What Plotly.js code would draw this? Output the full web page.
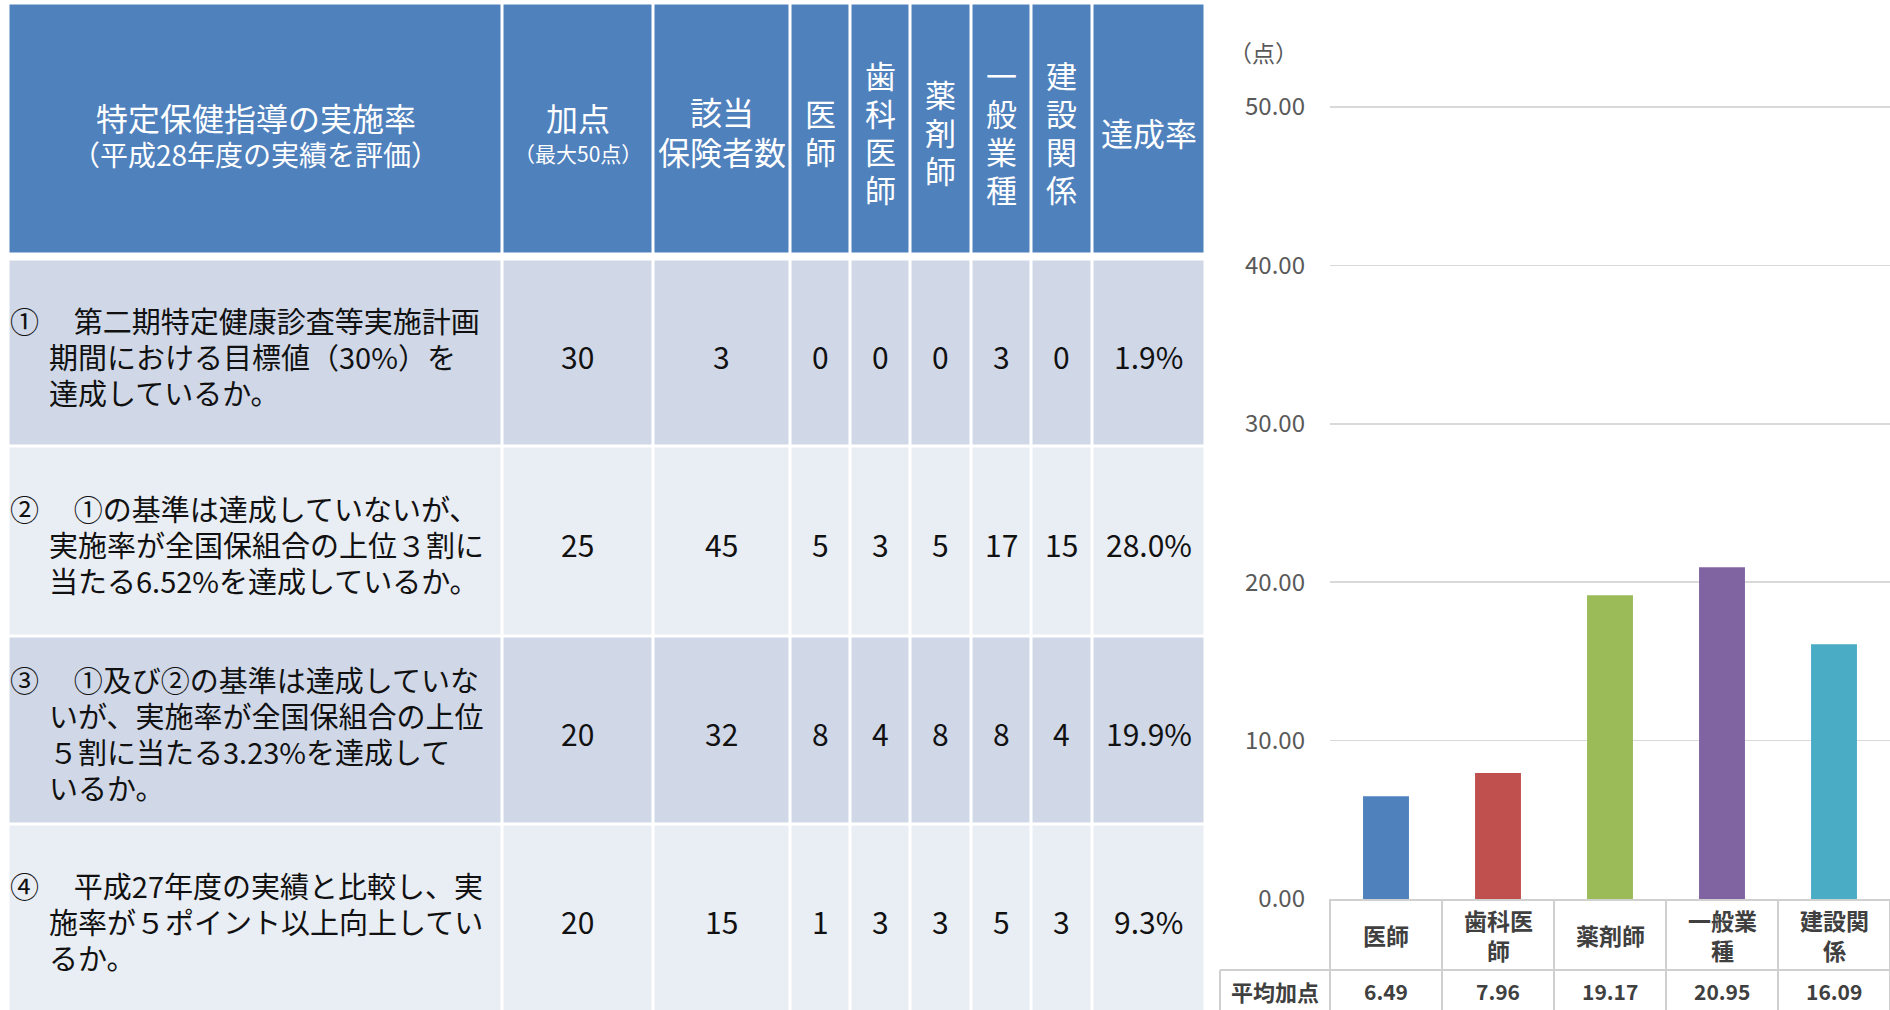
<!DOCTYPE html>
<html><head><meta charset="utf-8">
<script src="https://cdn.plot.ly/plotly-3.0.1.min.js"></script>
<style>html,body{margin:0;padding:0;background:#fff;overflow:hidden;} #chart{width:1890px;height:1010px;}</style>
</head><body><div id="chart"></div>
<script>
// ---------------- data ----------------
const headerTitle = '特定保健指導の実施率';
const headerSubtitle = '（平成28年度の実績を評価）';
const pointsHeader = '加点';
const pointsSub = '（最大50点）';
const insurerHeader = ['該当', '保険者数'];
const occupations = ['医師', '歯科医師', '薬剤師', '一般業種', '建設関係'];
const rateHeader = '達成率';
const criteriaLines = [
  ['①\u3000\u2009第二期特定健康診査等実施計画', '期間における目標値（30%）を', '達成しているか。'],
  ['②\u3000\u2009①の基準は達成していないが、', '実施率が全国保組合の上位３割に', '当たる6.52%を達成しているか。'],
  ['③\u3000\u2009①及び②の基準は達成していな', 'いが、実施率が全国保組合の上位', '５割に当たる3.23%を達成して', 'いるか。'],
  ['④\u3000\u2009平成27年度の実績と比較し、実', '施率が５ポイント以上向上してい', 'るか。']
];
const points = [30, 25, 20, 20];
const insurers = [3, 45, 32, 15];
const countsDoctor = [0, 5, 8, 1];
const countsDentist = [0, 3, 4, 3];
const countsPharmacist = [0, 5, 8, 3];
const countsGeneral = [3, 17, 8, 5];
const countsConstruction = [0, 15, 4, 3];
const achievementRate = ['1.9%', '28.0%', '19.9%', '9.3%'];

const chartCategories = ['医師', '歯科医師', '薬剤師', '一般業種', '建設関係'];
const categoryLabelLines = [['医師'], ['歯科医', '師'], ['薬剤師'], ['一般業', '種'], ['建設関', '係']];
const averagePoints = [6.49, 7.96, 19.17, 20.95, 16.09];
const averageLabel = '平均加点';
const unitLabel = '（点）';

// ---------------- layout / style constants ----------------
const W = 1890, H = 1010;
const FONT = 'Noto Sans CJK JP';
const colEdges = [8.5, 502.5, 653, 790, 850.5, 910.5, 971, 1031.5, 1092, 1205.5];
const headEdges = [3.5, 254.5];
const rowEdges = [259.5, 446, 636, 824.5, 1012];
const tableScale = [[0, '#4F81BD'], [0.5, '#D0D8E8'], [1, '#E9EDF4']];
const barColors = ['#4F81BD', '#C0504D', '#9BBB59', '#8064A2', '#4BACC6'];
const chartLeft = 1330, zeroPx = 899, pxPerUnit = 15.84, yMax = 52;
const catRowBottom = 970, labelCellLeft = 1220;
const lineCol = '#D0D0D0';
const TXT = '#111111', GRAY = '#404040';

const colCenter = i => (colEdges[i] + colEdges[i + 1]) / 2;
const rowCenter = r => (rowEdges[r] + rowEdges[r + 1]) / 2;
const py = p => 1 - p / H; // pixel row -> paper

const nCols = colEdges.length - 1;
const traces = [];
traces.push({
  type: 'heatmap', x: colEdges, y: headEdges,
  z: [Array(nCols).fill(0)], zmin: 0, zmax: 2, colorscale: tableScale,
  showscale: false, xgap: 3, ygap: 3, hoverinfo: 'skip', xaxis: 'x', yaxis: 'y'
});
traces.push({
  type: 'heatmap', x: colEdges, y: rowEdges,
  z: criteriaLines.map((_, r) => Array(nCols).fill(r % 2 === 0 ? 1 : 2)),
  zmin: 0, zmax: 2, colorscale: tableScale,
  showscale: false, xgap: 3, ygap: 3, hoverinfo: 'skip', xaxis: 'x', yaxis: 'y'
});
traces.push({
  type: 'bar', x: chartCategories, y: averagePoints, xaxis: 'x2', yaxis: 'y2',
  marker: {color: barColors}, width: 0.41, hoverinfo: 'skip'
});

const ann = [];
function tAnn(x, y, text, size, color, opts) {
  ann.push(Object.assign({
    xref: 'x', yref: 'y', x: x, y: y, text: text, showarrow: false,
    xanchor: 'center', yanchor: 'middle', borderpad: 0,
    font: {family: FONT, size: size, color: color}
  }, opts || {}));
}
// stacked lines, each line its own annotation
function stack(x, yMid, lines, size, color, spacing, opts) {
  lines.forEach((ln, i) => tAnn(x, yMid + (i - (lines.length - 1) / 2) * spacing, ln, size, color, opts));
}
// header
tAnn(colCenter(0), 117, headerTitle, 32, '#FFFFFF');
tAnn(colCenter(0), 154, headerSubtitle, 28, '#FFFFFF');
tAnn(colCenter(1), 117, pointsHeader, 32, '#FFFFFF');
tAnn(colCenter(1), 153, pointsSub, 21, '#FFFFFF');
stack(colCenter(2), 131, insurerHeader, 32, '#FFFFFF', 40);
occupations.forEach((o, k) => stack(colCenter(3 + k), 131, o.split(''), 31, '#FFFFFF', 38));
tAnn(colCenter(8), 132, rateHeader, 32, '#FFFFFF');
// body
const bodyCols = [points, insurers, countsDoctor, countsDentist, countsPharmacist, countsGeneral, countsConstruction, achievementRate];
criteriaLines.forEach((lines, r) => {
  const c = rowCenter(r) + 3;
  lines.forEach((ln, i) => {
    tAnn(i === 0 ? 9 : 48, c + (i - (lines.length - 1) / 2) * 36, ln, 29, TXT, {xanchor: 'left'});
  });
  bodyCols.forEach((col, k) => tAnn(colCenter(k + 1), c, String(col[r]), 30, TXT));
});

// chart table texts
const catMid = (zeroPx + catRowBottom) / 2;
chartCategories.forEach((c, i) => {
  const lines = categoryLabelLines[i];
  lines.forEach((ln, j) => {
    ann.push({xref: 'x2', yref: 'paper', x: c, y: py(catMid + (j - (lines.length - 1) / 2) * 30),
      text: '<b>' + ln + '</b>', showarrow: false, borderpad: 0,
      xanchor: 'center', yanchor: 'middle', font: {family: FONT, size: 23, color: GRAY}});
  });
  ann.push({xref: 'x2', yref: 'paper', x: c, y: py(991), text: '<b>' + averagePoints[i].toFixed(2) + '</b>', showarrow: false,
    borderpad: 0, xanchor: 'center', yanchor: 'middle', font: {family: FONT, size: 21, color: GRAY}});
});
ann.push({xref: 'paper', yref: 'paper', x: (labelCellLeft + chartLeft) / 2 / W, y: py(991), text: '<b>' + averageLabel + '</b>',
  showarrow: false, borderpad: 0, xanchor: 'center', yanchor: 'middle', font: {family: FONT, size: 22, color: GRAY}});
ann.push({xref: 'paper', yref: 'paper', x: 1263 / W, y: py(52), text: unitLabel, showarrow: false, borderpad: 0,
  xanchor: 'center', yanchor: 'middle', font: {family: FONT, size: 23, color: '#595959'}});

// chart table lines
const shapes = [];
const nCat = chartCategories.length;
for (let k = 0; k <= nCat; k++) {
  shapes.push({type: 'line', xref: 'x2 domain', yref: 'paper', x0: k / nCat, x1: k / nCat, y0: 0, y1: py(zeroPx),
    line: {color: lineCol, width: 2}});
}
shapes.push({type: 'line', xref: 'paper', yref: 'paper', x0: labelCellLeft / W, x1: 1, y0: py(catRowBottom), y1: py(catRowBottom),
  line: {color: lineCol, width: 2}});
shapes.push({type: 'line', xref: 'paper', yref: 'paper', x0: labelCellLeft / W, x1: labelCellLeft / W, y0: 0, y1: py(catRowBottom),
  line: {color: lineCol, width: 2}});

const layout = {
  width: W, height: H, margin: {l: 0, r: 0, t: 0, b: 0, pad: 0},
  paper_bgcolor: '#FFFFFF', plot_bgcolor: 'rgba(0,0,0,0)', showlegend: false,
  xaxis: {domain: [0, 1210 / W], range: [0, 1210], visible: false, fixedrange: true},
  yaxis: {domain: [0, 1], range: [H, 0], visible: false, fixedrange: true},
  xaxis2: {domain: [chartLeft / W, 1], type: 'category', anchor: 'y2', showticklabels: false, ticks: '',
    showline: true, linecolor: lineCol, linewidth: 2, showgrid: false, zeroline: false},
  yaxis2: {domain: [py(zeroPx), py(zeroPx - yMax * pxPerUnit)], range: [0, yMax], anchor: 'x2',
    tick0: 0, dtick: 10, tickformat: '.2f', showgrid: true, gridcolor: '#D9D9D9', gridwidth: 1.5,
    zeroline: false, showline: false, ticks: '', ticklabelstandoff: 24,
    tickfont: {family: FONT, size: 24, color: '#595959'}},
  annotations: ann, shapes: shapes
};
Plotly.newPlot('chart', traces, layout, {staticPlot: true, displayModeBar: false});
</script></body></html>
